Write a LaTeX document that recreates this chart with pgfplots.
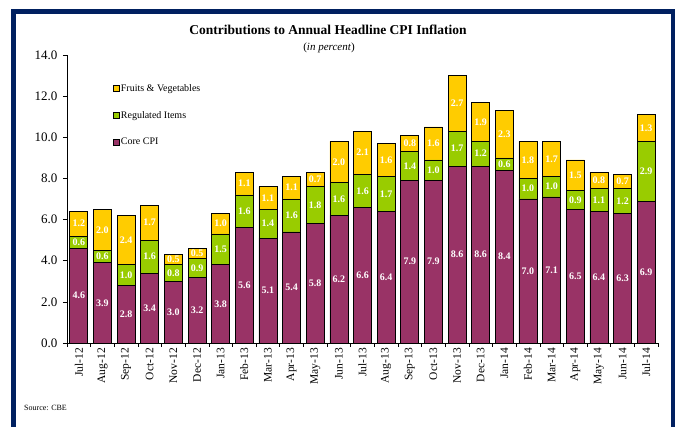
\documentclass[border=0pt]{standalone}
\usepackage{fontspec}
\setmainfont{Liberation Serif}
\usepackage{pgfplots}
\pgfplotsset{compat=1.18}
\usepackage{pgfplotstable}
\definecolor{corecpi}{HTML}{993366}
\definecolor{regitems}{HTML}{99CC00}
\definecolor{fruitveg}{HTML}{FFCC00}
\definecolor{navyframe}{RGB}{0,32,96}

\pgfplotstableread{
x core reg fv
0 4.6 0.6 1.2
1 3.9 0.6 2.0
2 2.8 1.0 2.4
3 3.4 1.6 1.7
4 3.0 0.8 0.5
5 3.2 0.9 0.5
6 3.8 1.5 1.0
7 5.6 1.6 1.1
8 5.1 1.4 1.1
9 5.4 1.6 1.1
10 5.8 1.8 0.7
11 6.2 1.6 2.0
12 6.6 1.6 2.1
13 6.4 1.7 1.6
14 7.9 1.4 0.8
15 7.9 1.0 1.6
16 8.6 1.7 2.7
17 8.6 1.2 1.9
18 8.4 0.6 2.3
19 7.0 1.0 1.8
20 7.1 1.0 1.7
21 6.5 0.9 1.5
22 6.4 1.1 0.8
23 6.3 1.2 0.7
24 6.9 2.9 1.3
}\cpidata

\pgfplotsset{
  common/.style={
    at={(67pt,84pt)}, anchor=south west, scale only axis,
    width=591pt, height=288pt,
    xmin=-0.5, xmax=24.5, ymin=0, ymax=14,
  }
}

\begin{document}
\begin{tikzpicture}
\useasboundingbox (0,0) rectangle (679pt,427pt);
\fill[white] (0,0) rectangle (679pt,427pt);
\draw[navyframe, line width=4.6pt, line join=miter] (13.3pt,-5pt) -- (13.3pt,415.5pt) -- (673pt,415.5pt) -- (673pt,-5pt);

\node[font=\bfseries\fontsize{13.5}{16}\selectfont] at (328pt,397pt) {Contributions to Annual Headline CPI Inflation};
\node[font=\fontsize{11}{13}\selectfont] at (329pt,379pt) {(\textit{in percent})};
\node[font=\fontsize{8}{10}\selectfont, anchor=west, inner sep=0pt] at (24pt,19pt) {Source: CBE};

\begin{axis}[common,
  ybar stacked, bar width=18pt,
  axis x line*=bottom, axis y line*=left,
  axis line style={black, line width=0.8pt},
  xtick={0,...,24},
  xticklabels={Jul-12,Aug-12,Sep-12,Oct-12,Nov-12,Dec-12,Jan-13,Feb-13,Mar-13,Apr-13,May-13,Jun-13,Jul-13,Aug-13,Sep-13,Oct-13,Nov-13,Dec-13,Jan-14,Feb-14,Mar-14,Apr-14,May-14,Jun-14,Jul-14},
  major x tick style={draw=none},
  minor xtick={-0.5,0.5,1.5,2.5,3.5,4.5,5.5,6.5,7.5,8.5,9.5,10.5,11.5,12.5,13.5,14.5,15.5,16.5,17.5,18.5,19.5,20.5,21.5,22.5,23.5,24.5},
  tick align=outside, major tick length=4pt, minor tick length=4pt,
  tick style={black, line width=0.6pt},
  ytick={0,2,...,14},
  yticklabel style={font=\fontsize{13}{15}\selectfont, xshift=-2pt,
    /pgf/number format/.cd, fixed, fixed zerofill, precision=1, assume math mode=true},
  xticklabel style={rotate=90, anchor=east, inner sep=1pt, font=\fontsize{11.5}{13}\selectfont},
  legend style={at={(axis description cs:0.078,0.903)}, anchor=north west, draw=none, fill=none,
    font=\fontsize{10}{12}\selectfont, row sep=16.5pt, inner sep=0pt, nodes={inner sep=1pt}, cells={anchor=west}},
  legend image code/.code={\draw[#1, draw=black, line width=0.6pt] (0pt,-3pt) rectangle (6pt,3pt);},
  reverse legend,
]
\addplot[fill=corecpi, draw=black, line width=0.7pt] table[x=x, y=core]{\cpidata};
\addlegendentry{Core CPI}
\addplot[fill=regitems, draw=black, line width=0.7pt] table[x=x, y=reg]{\cpidata};
\addlegendentry{Regulated Items}
\addplot[fill=fruitveg, draw=black, line width=0.7pt] table[x=x, y=fv]{\cpidata};
\addlegendentry{Fruits \& Vegetables}
\end{axis}

\begin{axis}[common, hide axis,
  point meta=explicit,
  nodes near coords={\pgfmathprintnumber[fixed,fixed zerofill,precision=1,assume math mode=true]{\pgfplotspointmeta}},
  every node near coord/.append style={anchor=center, text=white, inner sep=0pt,
    font=\bfseries\fontsize{10}{12}\selectfont},
]
\addplot[draw=none, mark=none] table[x=x, y expr=\thisrow{core}/2, meta=core]{\cpidata};
\addplot[draw=none, mark=none] table[x=x, y expr=\thisrow{core}+\thisrow{reg}/2, meta=reg]{\cpidata};
\addplot[draw=none, mark=none] table[x=x, y expr=\thisrow{core}+\thisrow{reg}+\thisrow{fv}/2, meta=fv]{\cpidata};
\end{axis}
\end{tikzpicture}
\end{document}
